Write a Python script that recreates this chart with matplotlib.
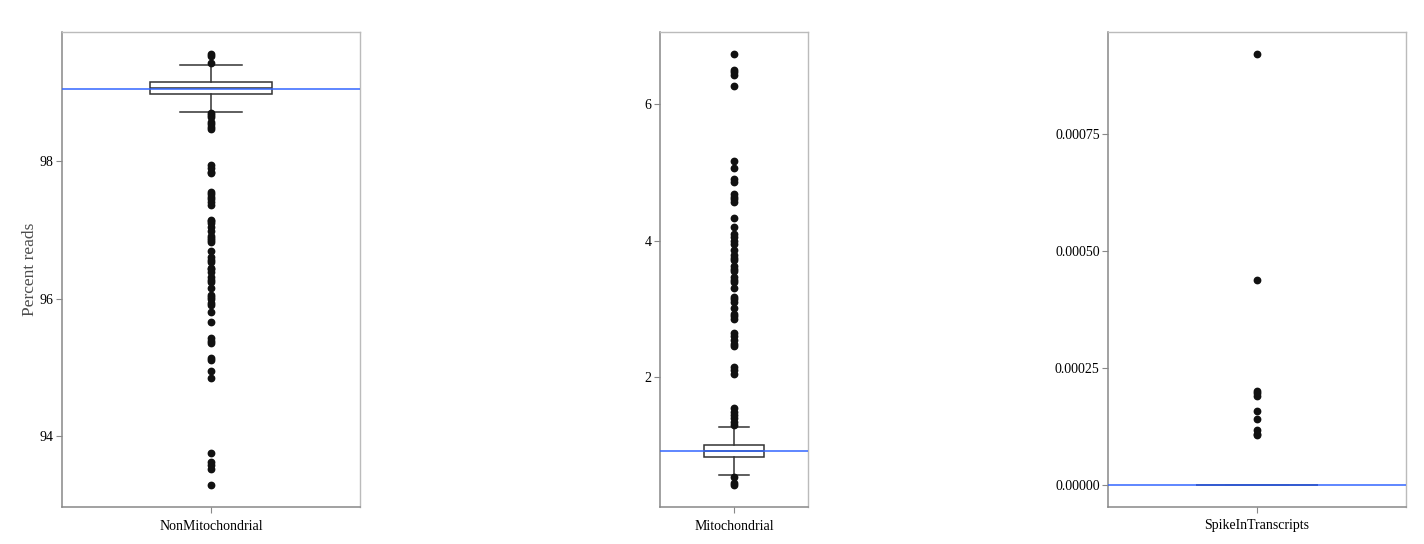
import numpy as np
import matplotlib.pyplot as plt

plt.rcParams['font.family'] = ['Liberation Serif', 'DejaVu Serif']

# box summaries (per panel)
categories = ["NonMitochondrial", "Mitochondrial", "SpikeInTranscripts"]
q1 = [98.98, 0.82, 0.0]
med = [99.07, 0.91, 0.0]
q3 = [99.16, 1.00, 0.0]
whislo = [98.72, 0.57, 0.0]
whishi = [99.41, 1.27, 0.0]
ref_line = [99.05, 0.92, 0.0]   # blue horizontal line

nonmito_fliers = [99.57, 99.54, 99.44, 98.70, 98.67, 98.65, 98.58, 98.54, 98.50, 98.47,
                  97.94, 97.90, 97.85, 97.83, 97.55, 97.52, 97.48, 97.45, 97.41, 97.37,
                  97.15, 97.13, 97.10, 97.05, 96.99, 96.91, 96.89, 96.85, 96.83, 96.70,
                  96.60, 96.57, 96.54, 96.45, 96.43, 96.39, 96.31, 96.27, 96.24, 96.16,
                  96.05, 96.03, 96.00, 95.94, 95.91, 95.81, 95.66, 95.42, 95.38, 95.35,
                  95.14, 95.10, 94.95, 94.84, 93.75, 93.62, 93.58, 93.52, 93.28]
mito_fliers = [6.745, 6.50, 6.47, 6.43, 6.27, 5.17, 5.07, 4.90, 4.86, 4.68, 4.64, 4.61,
               4.57, 4.34, 4.20, 4.10, 4.06, 3.99, 3.95, 3.87, 3.79, 3.75, 3.71, 3.63,
               3.59, 3.56, 3.47, 3.43, 3.39, 3.31, 3.17, 3.14, 3.10, 3.01, 2.93, 2.89,
               2.85, 2.64, 2.60, 2.55, 2.49, 2.45, 2.15, 2.11, 2.05, 1.54, 1.49, 1.45,
               1.40, 1.34, 1.30, 0.54, 0.44, 0.41]
spike_fliers = [0.000922, 0.000438, 0.000201, 0.000197, 0.000191, 0.000159,
                0.000142, 0.000118, 0.000110, 0.000107]
fliers = [nonmito_fliers, mito_fliers, spike_fliers]

yticks = [[94, 96, 98], [2, 4, 6], [0.0, 0.00025, 0.0005, 0.00075]]
yfmt = ["{:.0f}", "{:.0f}", "{:.5f}"]

# axes rectangles in pixels (left, top, width, height)
W, H = 1424, 544
rects = [(62, 32, 298, 475), (660, 32, 148, 475), (1108, 32, 298, 475)]

fig = plt.figure(figsize=(W / 100, H / 100), dpi=100)

for i, cat in enumerate(categories):
    x0, y0, w, h = rects[i]
    ax = fig.add_axes([x0 / W, 1 - (y0 + h) / H, w / W, h / H])
    stats = [dict(med=med[i], q1=q1[i], q3=q3[i], whislo=whislo[i], whishi=whishi[i],
                  fliers=fliers[i], label=cat)]
    ax.bxp(stats, positions=[0], widths=0.82, patch_artist=True,
           boxprops=dict(facecolor="white", edgecolor="#333333", linewidth=1.1),
           medianprops=dict(color="#333333", linewidth=1.1),
           whiskerprops=dict(color="#333333", linewidth=1.1),
           capprops=dict(color="#333333", linewidth=1.1),
           capwidths=0.41,
           flierprops=dict(marker="o", markersize=4.6, markerfacecolor="#111111",
                           markeredgecolor="#111111", linestyle="none"))
    ax.axhline(ref_line[i], color="#3366FF", linewidth=1.1, zorder=5)

    vals = fliers[i] + [whislo[i], whishi[i]]
    lo, hi = min(vals), max(vals)
    pad = (hi - lo) * 0.05
    ax.set_ylim(lo - pad, hi + pad)
    ax.set_xlim(-1, 1)

    ax.set_yticks(yticks[i])
    ax.set_yticklabels([yfmt[i].format(t) for t in yticks[i]])
    ax.set_xticks([0])
    ax.set_xticklabels([cat])
    ax.tick_params(labelsize=10, colors="#888888", labelcolor="black",
                   length=4, width=0.8)
    ax.tick_params(axis="y", pad=2)
    ax.tick_params(axis="x", pad=5)

    for s in ["left", "bottom"]:
        ax.spines[s].set_color("#888888")
        ax.spines[s].set_linewidth(1.1)
    for s in ["top", "right"]:
        ax.spines[s].set_color("#bbbbbb")
        ax.spines[s].set_linewidth(1.0)

    if i == 0:
        ax.set_ylabel("Percent reads", fontsize=12.5, color="#4d4d4d", labelpad=1)

fig.savefig("out.png", dpi=100)
